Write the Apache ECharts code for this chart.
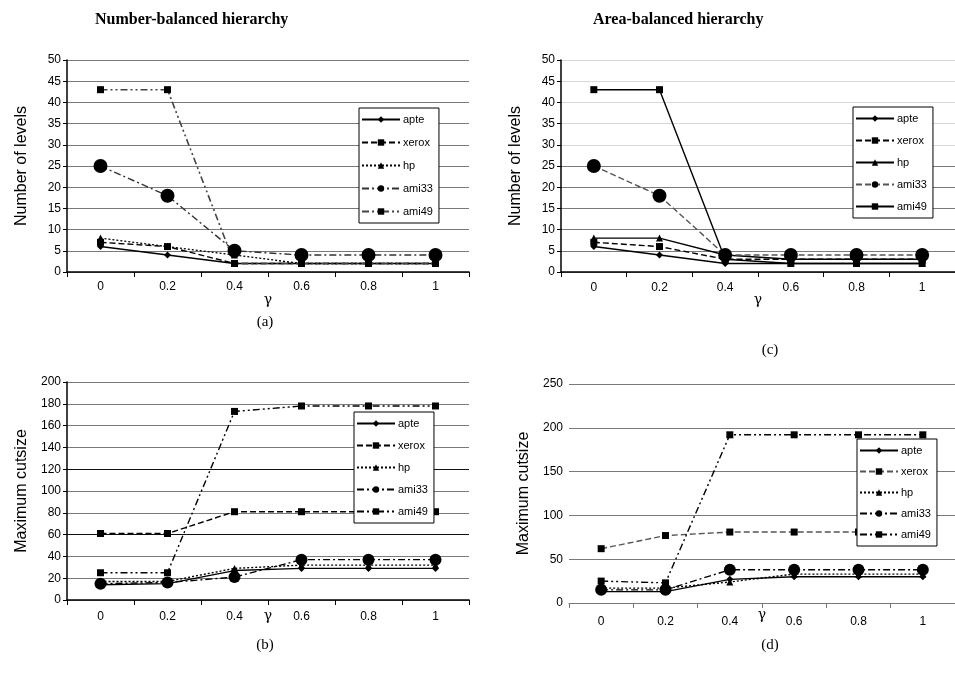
<!DOCTYPE html>
<html><head><meta charset="utf-8">
<script src="https://cdn.jsdelivr.net/npm/echarts@6/dist/echarts.min.js"></script>
<style>html,body{margin:0;padding:0;background:#fff}#c{width:955px;height:683px}</style>
</head><body><div id="c"></div>
<script>
const gammaLabels = ['0', '0.2', '0.4', '0.6', '0.8', '1'];
const benchNames = ['apte', 'xerox', 'hp', 'ami33', 'ami49'];
const levelTicks = [0, 50, 5];
const cutTicksB = [0, 200, 20];
const cutTicksD = [0, 250, 50];

// (a) Number of levels, number-balanced
const aApte  = [6, 4, 2, 2, 2, 2];
const aXerox = [7, 6, 2, 2, 2, 2];
const aHp    = [8, 6, 4, 2, 2, 2];
const aAmi33 = [25, 18, 5, 4, 4, 4];
const aAmi49 = [43, 43, 2, 2, 2, 2];

// (c) Number of levels, area-balanced
const cApte  = [6, 4, 2, 2, 2, 2];
const cXerox = [7, 6, 3, 3, 3, 3];
const cHp    = [8, 8, 4, 3, 3, 3];
const cAmi33 = [25, 18, 4, 4, 4, 4];
const cAmi49 = [43, 43, 3, 2, 2, 2];

// (b) Maximum cutsize, number-balanced
const bApte  = [14, 15, 27, 29, 29, 29];
const bXerox = [61, 61, 81, 81, 81, 81];
const bHp    = [17, 17, 29, 32, 32, 32];
const bAmi33 = [15, 16, 21, 37, 37, 37];
const bAmi49 = [25, 25, 173, 178, 178, 178];

// (d) Maximum cutsize, area-balanced
const dApte  = [13, 13, 27, 30, 30, 30];
const dXerox = [62, 77, 81, 81, 81, 81];
const dHp    = [17, 17, 24, 33, 33, 33];
const dAmi33 = [15, 15, 38, 38, 38, 38];
const dAmi49 = [25, 23, 192, 192, 192, 192];

const SOLID = 'solid', DASH = [6, 3], DOT = [2, 2], DASHDOT = [7, 3, 2, 3], DASHDOTDOT = [7, 3, 2, 3, 2, 3];
const FONT = 'Liberation Sans, Arial, sans-serif';

function mk(name, panel, idx, data, symbol, size, type, color, width) {
  return {
    type: 'line', name: name + '#' + panel, xAxisIndex: idx, yAxisIndex: idx, data: data,
    symbol: symbol, symbolSize: size, showSymbol: true, animation: false,
    lineStyle: { color: color, width: width || 1.4, type: type },
    itemStyle: { color: '#000' }, z: 3
  };
}

const panels = {
  a: [aApte, aXerox, aHp, aAmi33, aAmi49],
  c: [cApte, cXerox, cHp, cAmi33, cAmi49],
  b: [bApte, bXerox, bHp, bAmi33, bAmi49],
  d: [dApte, dXerox, dHp, dAmi33, dAmi49]
};
const styles = {
  a: [[SOLID, '#000'], [DASH, '#000'], [DOT, '#000'], [DASHDOT, '#333'], [DASHDOTDOT, '#444']],
  c: [[SOLID, '#000'], [DASH, '#000'], [SOLID, '#000'], [DASH, '#555'], [SOLID, '#000']],
  b: [[SOLID, '#000'], [DASH, '#000'], [DOT, '#000'], [DASHDOT, '#000'], [DASHDOTDOT, '#000']],
  d: [[SOLID, '#000'], [DASH, '#555'], [DOT, '#000'], [DASHDOT, '#000'], [DASHDOTDOT, '#000']]
};
const symbols = [['diamond', 7], ['rect', 7], ['triangle', 7], ['circle', 14], ['rect', 7]];
const order = ['a', 'c', 'b', 'd'];

const series = [];
order.forEach((p, i) => {
  panels[p].forEach((arr, k) => {
    const sz = (p === 'b' || p === 'd') && k === 3 ? 12 : symbols[k][1];
    series.push(mk(benchNames[k], p, i, arr, symbols[k][0], sz, styles[p][k][0], styles[p][k][1], k === 4 && p === 'a' ? 1.6 : 1.4));
  });
});

const grids = [
  { left: 67, top: 60, width: 402, height: 212 },
  { left: 561, top: 60, width: 408, height: 212 },
  { left: 67, top: 382, width: 402, height: 218 },
  { left: 569, top: 384, width: 402, height: 219 }
];

function xAx(i, gray, margin, nameGap) {
  return {
    type: 'category', gridIndex: i, data: gammaLabels, boundaryGap: true,
    axisLine: { lineStyle: { color: gray ? '#777' : '#000', width: gray ? 1 : 1.5 } },
    axisTick: { show: true, length: 5, lineStyle: { color: gray ? '#777' : '#000' } },
    axisLabel: { color: '#000', fontSize: 12, fontFamily: FONT, margin: margin },
    name: '\u03b3', nameLocation: 'middle', nameGap: nameGap, nameMoveOverlap: false,
    nameTextStyle: { color: '#000', fontSize: 14, fontFamily: 'DejaVu Serif, serif' }
  };
}
function yAx(i, t, name, colors, showLine) {
  return {
    type: 'value', gridIndex: i, min: t[0], max: t[1], interval: t[2],
    axisLine: { show: showLine, lineStyle: { color: '#000', width: 1.5 } },
    axisTick: { show: showLine, length: 4, lineStyle: { color: '#000' } },
    axisLabel: { color: '#000', fontSize: 12, fontFamily: FONT, margin: 6 },
    splitLine: { show: true, lineStyle: { color: colors, width: 1 } },
    name: name, nameLocation: 'middle', nameGap: 37,
    nameTextStyle: { color: '#000', fontSize: 16, fontFamily: FONT }
  };
}
const g = '#7a7a7a', lt = '#d8d8d8', dk = '#111';

function legend(p, left, top, gap) {
  return {
    show: true, orient: 'vertical', left: left, top: top,
    data: benchNames.map(n => n + '#' + p),
    formatter: n => n.split('#')[0],
    itemWidth: 38, itemHeight: 8, itemGap: gap, selectedMode: false,
    textStyle: { color: '#000', fontSize: 11, fontFamily: FONT, padding: [0, 0, 0, -2] },
    backgroundColor: '#fff', borderColor: '#000', borderWidth: 1,
    padding: [6, 6, 6, 2], z: 10
  };
}

const titleFont = 'bold 16px "Liberation Serif", "Times New Roman", serif';
const subFont = '15px "Liberation Serif", "Times New Roman", serif';
const option = {
  animation: false,
  backgroundColor: '#fff',
  grid: grids,
  xAxis: [xAx(0, false, 9, 21), xAx(1, false, 10, 21), xAx(2, false, 11, 9), xAx(3, true, 13, 5)],
  yAxis: [
    yAx(0, levelTicks, 'Number of levels', g, true),
    yAx(1, levelTicks, 'Number of levels', [g, g, g, g, g, g, lt, lt, lt, lt, lt], true),
    yAx(2, cutTicksB, 'Maximum cutsize', [g, g, g, dk, g, g, dk, g, g, g, g], true),
    yAx(3, cutTicksD, 'Maximum cutsize', g, false)
  ],
  legend: [
    legend('a', 359, 108, 12),
    legend('c', 853, 107, 11),
    legend('b', 354, 412, 11),
    legend('d', 857, 439, 10)
  ],
  series: series,
  graphic: [
    { type: 'text', left: 95, top: 12, style: { text: 'Number-balanced hierarchy', font: titleFont, fill: '#000' } },
    { type: 'text', left: 593, top: 12, style: { text: 'Area-balanced hierarchy', font: titleFont, fill: '#000' } },
    { type: 'text', x: 265, y: 322, style: { text: '(a)', font: subFont, fill: '#000', align: 'center', verticalAlign: 'middle' } },
    { type: 'text', x: 770, y: 350, style: { text: '(c)', font: subFont, fill: '#000', align: 'center', verticalAlign: 'middle' } },
    { type: 'text', x: 265, y: 645, style: { text: '(b)', font: subFont, fill: '#000', align: 'center', verticalAlign: 'middle' } },
    { type: 'text', x: 770, y: 645, style: { text: '(d)', font: subFont, fill: '#000', align: 'center', verticalAlign: 'middle' } }
  ]
};
const chart = echarts.init(document.getElementById('c'), null, { renderer: 'canvas' });
chart.setOption(option);
</script></body></html>
